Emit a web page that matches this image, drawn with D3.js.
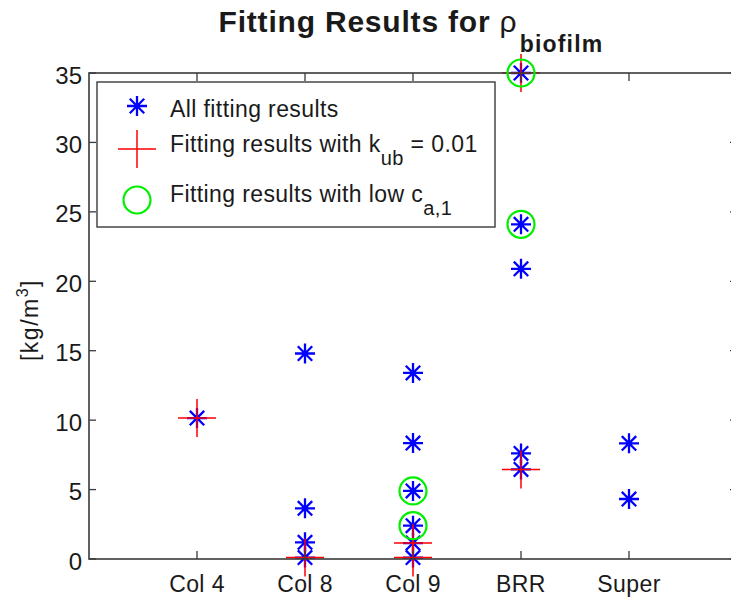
<!DOCTYPE html>
<html>
<head>
<meta charset="utf-8">
<script src="https://cdn.jsdelivr.net/npm/d3@7"></script>
<style>
  html, body { margin: 0; padding: 0; background: #fff; }
  svg { display: block; }
  text { font-family: "Liberation Sans", Arial, Helvetica, sans-serif; fill: #1a1a1a; }
</style>
</head>
<body>
<svg id="chart" width="731" height="600"></svg>
<script>
// ---- data ----
const categories = ["Col 4", "Col 8", "Col 9", "BRR", "Super"];
const allResults = [
  [10.15],
  [14.8, 3.65, 1.2, 0.1],
  [13.4, 8.35, 4.9, 2.4, 1.15, 0.1],
  [35, 24.1, 20.9, 7.6, 6.45],
  [8.33, 4.32]
];
const kubResults = [
  [10.15],
  [0.1],
  [1.15, 0.1],
  [35, 6.45],
  []
];
const lowCaResults = [
  [],
  [],
  [4.9, 2.4],
  [35, 24.1],
  []
];
const yTicks = [0, 5, 10, 15, 20, 25, 30, 35];

// ---- layout ----
const svg = d3.select("#chart");
const mLeft = 89, mRight = 737, mTop = 73, mBottom = 559;
const x = d3.scaleLinear().domain([0, categories.length + 1]).range([mLeft, mRight]);
const y = d3.scaleLinear().domain([0, 35]).range([mBottom, mTop]);
const axisColor = "#3a3a3a";

function flatten(groups) {
  const out = [];
  groups.forEach((vals, i) => vals.forEach(v => out.push({ i: i + 1, v })));
  return out;
}

const starPath = (s) => {
  const d = s * 0.72;
  return `M0,${-s}L0,${s}M${-s},0L${s},0M${-d},${-d}L${d},${d}M${-d},${d}L${d},${-d}`;
};
const plusPath = (s) => `M0,${-s}L0,${s}M${-s},0L${s},0`;

// ---- title ----
const title = svg.append("text")
  .attr("x", (mLeft + mRight) / 2 - 2)
  .attr("y", 32)
  .attr("text-anchor", "middle");
title.append("tspan").text("Fitting Results for ")
  .attr("font-weight", "bold").attr("font-size", 30).attr("letter-spacing", 0.8);
title.append("tspan").text("ρ").attr("font-size", 30);
title.append("tspan").text("biofilm")
  .attr("font-weight", "bold").attr("font-size", 23).attr("letter-spacing", 1.2)
  .attr("dx", 3).attr("dy", 20);

// ---- stars (all results) ----
const gMarks = svg.append("g");
gMarks.selectAll("path.star").data(flatten(allResults)).enter().append("path")
  .attr("class", "star")
  .attr("d", starPath(10))
  .attr("transform", d => `translate(${x(d.i)},${y(d.v)})`)
  .attr("stroke", "#0000ff").attr("stroke-width", 2.3).attr("fill", "none");

// ---- plus (k_ub) ----
gMarks.selectAll("path.plus").data(flatten(kubResults)).enter().append("path")
  .attr("class", "plus")
  .attr("d", plusPath(19))
  .attr("transform", d => `translate(${x(d.i)},${y(d.v)})`)
  .attr("stroke", "#ff0000").attr("stroke-width", 1.5).attr("fill", "none");

// ---- axes frame ----
const gAxis = svg.append("g");
gAxis.append("rect")
  .attr("x", mLeft).attr("y", mTop)
  .attr("width", mRight - mLeft).attr("height", mBottom - mTop)
  .attr("fill", "none").attr("stroke", axisColor).attr("stroke-width", 1.6);

// y ticks (left and right, inward)
yTicks.forEach(t => {
  gAxis.append("line").attr("x1", mLeft).attr("x2", mLeft + 7)
    .attr("y1", y(t)).attr("y2", y(t)).attr("stroke", axisColor).attr("stroke-width", 1.3);
  gAxis.append("line").attr("x1", mRight).attr("x2", mRight - 7)
    .attr("y1", y(t)).attr("y2", y(t)).attr("stroke", axisColor).attr("stroke-width", 1.3);
  gAxis.append("text")
    .attr("x", mLeft - 7).attr("y", y(t) + 2)
    .attr("text-anchor", "end").attr("dominant-baseline", "central")
    .attr("font-size", 24).attr("fill", "#2a2a2a")
    .text(t);
});

// x ticks (bottom and top, inward)
categories.forEach((c, i) => {
  const xx = x(i + 1);
  gAxis.append("line").attr("x1", xx).attr("x2", xx)
    .attr("y1", mBottom).attr("y2", mBottom - 8).attr("stroke", axisColor).attr("stroke-width", 1.3);
  gAxis.append("line").attr("x1", xx).attr("x2", xx)
    .attr("y1", mTop).attr("y2", mTop + 8).attr("stroke", axisColor).attr("stroke-width", 1.3);
  gAxis.append("text")
    .attr("x", xx).attr("y", 592)
    .attr("text-anchor", "middle")
    .attr("font-size", 23).attr("letter-spacing", 0.4).attr("fill", "#2a2a2a")
    .text(c);
});

// y axis label
const ylab = svg.append("text")
  .attr("transform", "translate(38,320) rotate(-90)")
  .attr("text-anchor", "middle")
  .attr("font-size", 23).attr("letter-spacing", 1.5).attr("fill", "#2a2a2a");
ylab.append("tspan").text("[kg/m");
ylab.append("tspan").text("3").attr("font-size", 16).attr("dy", -10);
ylab.append("tspan").text("]").attr("dy", 10);

// ---- circles (low c_a,1) ----
svg.append("g").selectAll("circle").data(flatten(lowCaResults)).enter().append("circle")
  .attr("cx", d => x(d.i)).attr("cy", d => y(d.v)).attr("r", 13.5)
  .attr("stroke", "#00ee00").attr("stroke-width", 2.2).attr("fill", "none");

// ---- legend ----
const lg = svg.append("g");
lg.append("rect").attr("x", 97).attr("y", 82).attr("width", 398).attr("height", 145)
  .attr("fill", "#fff").attr("stroke", axisColor).attr("stroke-width", 1.4);
lg.append("path").attr("d", starPath(10)).attr("transform", "translate(137,106)")
  .attr("stroke", "#0000ff").attr("stroke-width", 2.3).attr("fill", "none");
lg.append("path").attr("d", plusPath(19)).attr("transform", "translate(137,149)")
  .attr("stroke", "#ff0000").attr("stroke-width", 1.5).attr("fill", "none");
lg.append("circle").attr("cx", 137).attr("cy", 200).attr("r", 13.5)
  .attr("stroke", "#00ee00").attr("stroke-width", 2.2).attr("fill", "none");

lg.append("text").attr("x", 170).attr("y", 116.5).attr("font-size", 23).attr("letter-spacing", 0.4)
  .attr("fill", "#2a2a2a").text("All fitting results");
const t2 = lg.append("text").attr("x", 170).attr("y", 151.5).attr("font-size", 23).attr("letter-spacing", 0.4)
  .attr("fill", "#2a2a2a");
t2.append("tspan").text("Fitting results with k");
t2.append("tspan").text("ub").attr("font-size", 20).attr("dy", 13);
t2.append("tspan").text(" = 0.01").attr("dy", -13);
const t3 = lg.append("text").attr("x", 170).attr("y", 201.5).attr("font-size", 23).attr("letter-spacing", 0.4)
  .attr("fill", "#2a2a2a");
t3.append("tspan").text("Fitting results with low c");
t3.append("tspan").text("a,1").attr("font-size", 20).attr("dy", 13);
</script>
</body>
</html>
